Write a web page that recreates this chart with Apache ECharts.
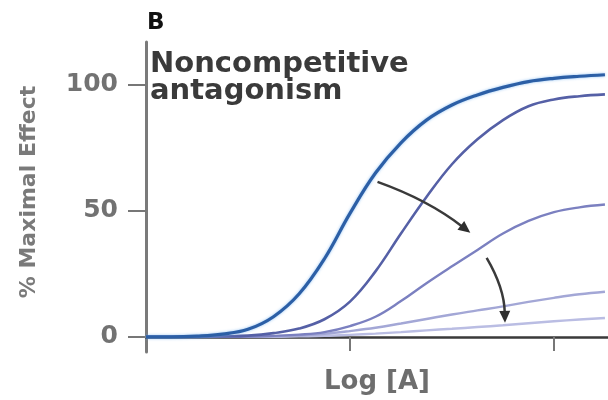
<!DOCTYPE html>
<html>
<head>
<meta charset="utf-8">
<script src="https://cdn.jsdelivr.net/npm/echarts@6/dist/echarts.min.js"></script>
<style>
html,body{margin:0;padding:0;background:#fff;}
#chart{width:608px;height:400px;}
</style>
</head>
<body>
<div id="chart"></div>
<script>
// Log [A] sample positions (arbitrary log units)
const logA = [0, 0.25, 0.5, 0.75, 1.0, 1.25, 1.5, 1.75, 2.0, 2.25, 2.5, 2.75, 3.0, 3.25, 3.5, 3.75, 4.0, 4.25, 4.5];
// % maximal effect, agonist alone and with increasing noncompetitive antagonist
const control  = [0, 0, 0.3, 1.1, 3, 8, 17, 31, 49, 65, 77, 86, 92, 96, 99, 101.3, 102.6, 103.4, 104];
const antag1   = [0, 0, 0, 0.2, 0.5, 1.5, 3.3, 7, 14, 26, 41, 55.5, 68.5, 78.4, 86, 91.5, 94.2, 95.5, 96.2];
const antag2   = [0, 0, 0, 0, 0.1, 0.4, 0.9, 1.9, 4.3, 8, 14.2, 21.3, 28, 34.5, 41, 46, 49.5, 51.4, 52.5];
const antag3   = [0, 0, 0, 0, 0, 0.2, 0.5, 1.2, 2.3, 3.6, 5.3, 7.1, 8.9, 10.5, 12.1, 13.9, 15.5, 16.9, 17.9];
const antag4   = [0, 0, 0, 0, 0, 0, 0.2, 0.4, 0.8, 1.3, 1.9, 2.6, 3.2, 3.9, 4.6, 5.4, 6.2, 6.9, 7.5];
const yTicks = [0, 50, 100];
const xTicks = [2, 4];
// annotation arrows [from(logA, %), to(logA, %)]
const arrow1 = [[2.27, 61.5], [3.18, 41.3]];
const arrow2 = [[3.34, 31.3], [3.52, 5.6]];

const font = 'DejaVu Sans';
const colors = ['#2c5fa6', '#5560a6', '#7b80c0', '#a3a7d6', '#babde3'];
const widths = [3.2, 2.6, 2.4, 2.4, 2.4];
const sets = [control, antag1, antag2, antag3, antag4];

const series = sets.map((vals, i) => ({
  type: 'line',
  data: logA.map((x, j) => [x, vals[j]]),
  smooth: 0.4,
  showSymbol: false,
  symbol: 'none',
  z: 10 - i,
  lineStyle: i === 0
    ? {color: colors[i], width: widths[i], shadowColor: 'rgba(120,180,240,0.8)', shadowBlur: 3}
    : {color: colors[i], width: widths[i]}
}));

const textGraphics = [
  {id: 'tB', type: 'text', left: 147, top: 12, style: {text: 'B', fontFamily: font, fontWeight: 'bold', fontSize: 23, fill: '#111'}},
  {id: 't1', type: 'text', x: 150, y: 64, style: {text: 'Noncompetitive', fontFamily: font, fontWeight: 'bold', fontSize: 29, fill: '#3a3a3a', verticalAlign: 'middle'}},
  {id: 't2', type: 'text', x: 150, y: 91, style: {text: 'antagonism', fontFamily: font, fontWeight: 'bold', fontSize: 29, fill: '#3a3a3a', verticalAlign: 'middle'}}
];

const chart = echarts.init(document.getElementById('chart'), null, {renderer: 'canvas'});
chart.setOption({
  animation: false,
  backgroundColor: '#ffffff',
  grid: {left: 146, right: 0, top: 42, bottom: 48, outerBoundsMode: 'none'},
  xAxis: {
    type: 'value',
    min: 0,
    max: 4.53,
    name: 'Log [A]',
    nameLocation: 'middle',
    nameGap: 17,
    nameTextStyle: {fontFamily: font, fontWeight: 'bold', fontSize: 26, color: '#6e6e6e'},
    axisLine: {onZero: true, lineStyle: {color: '#3a3a3a', width: 2.5}},
    axisTick: {show: true, customValues: xTicks, length: 14, lineStyle: {color: '#777', width: 2}},
    axisLabel: {show: false},
    splitLine: {show: false}
  },
  yAxis: {
    type: 'value',
    min: -6,
    max: 117,
    name: '% Maximal Effect',
    nameLocation: 'middle',
    nameGap: 106,
    nameRotate: 90,
    nameTextStyle: {fontFamily: font, fontWeight: 'bold', fontSize: 22, color: '#7a7a7a', padding: [0, 0, 0, 10]},
    axisLine: {show: true, lineStyle: {color: '#7a7a7a', width: 3}},
    axisTick: {show: true, customValues: yTicks, length: 18, lineStyle: {color: '#777', width: 2}},
    axisLabel: {show: true, customValues: yTicks, margin: 28, fontFamily: font, fontWeight: 'bold', fontSize: 25, color: '#727272'},
    splitLine: {show: false}
  },
  graphic: textGraphics,
  series: series
});

// curved annotation arrows, positioned through the chart's own coordinate conversion
function curvedArrow(id, arrow, bow) {
  const p0 = chart.convertToPixel({gridIndex: 0}, arrow[0]);
  const p1 = chart.convertToPixel({gridIndex: 0}, arrow[1]);
  const dx = p1[0] - p0[0], dy = p1[1] - p0[1];
  const len = Math.sqrt(dx * dx + dy * dy);
  const nx = dy / len, ny = -dx / len;
  const cp = [(p0[0] + p1[0]) / 2 + nx * bow * len, (p0[1] + p1[1]) / 2 + ny * bow * len];
  let tx = p1[0] - cp[0], ty = p1[1] - cp[1];
  const tl = Math.sqrt(tx * tx + ty * ty); tx /= tl; ty /= tl;
  const headL = 12, headW = 5.5;
  const base = [p1[0] - tx * headL, p1[1] - ty * headL];
  return [
    {id: id + 'l', type: 'bezierCurve', z: 20, silent: true,
     shape: {x1: p0[0], y1: p0[1], x2: base[0] + tx * 2, y2: base[1] + ty * 2, cpx1: cp[0], cpy1: cp[1]},
     style: {stroke: '#3a3a3a', lineWidth: 2.5, fill: null}},
    {id: id + 'h', type: 'polygon', z: 21, silent: true,
     shape: {points: [p1, [base[0] - ty * headW, base[1] + tx * headW], [base[0] + ty * headW, base[1] - tx * headW]]},
     style: {fill: '#2e2e2e'}}
  ];
}
chart.setOption({graphic: textGraphics.concat(curvedArrow('a1', arrow1, 0.08), curvedArrow('a2', arrow2, 0.13))});
</script>
</body>
</html>
